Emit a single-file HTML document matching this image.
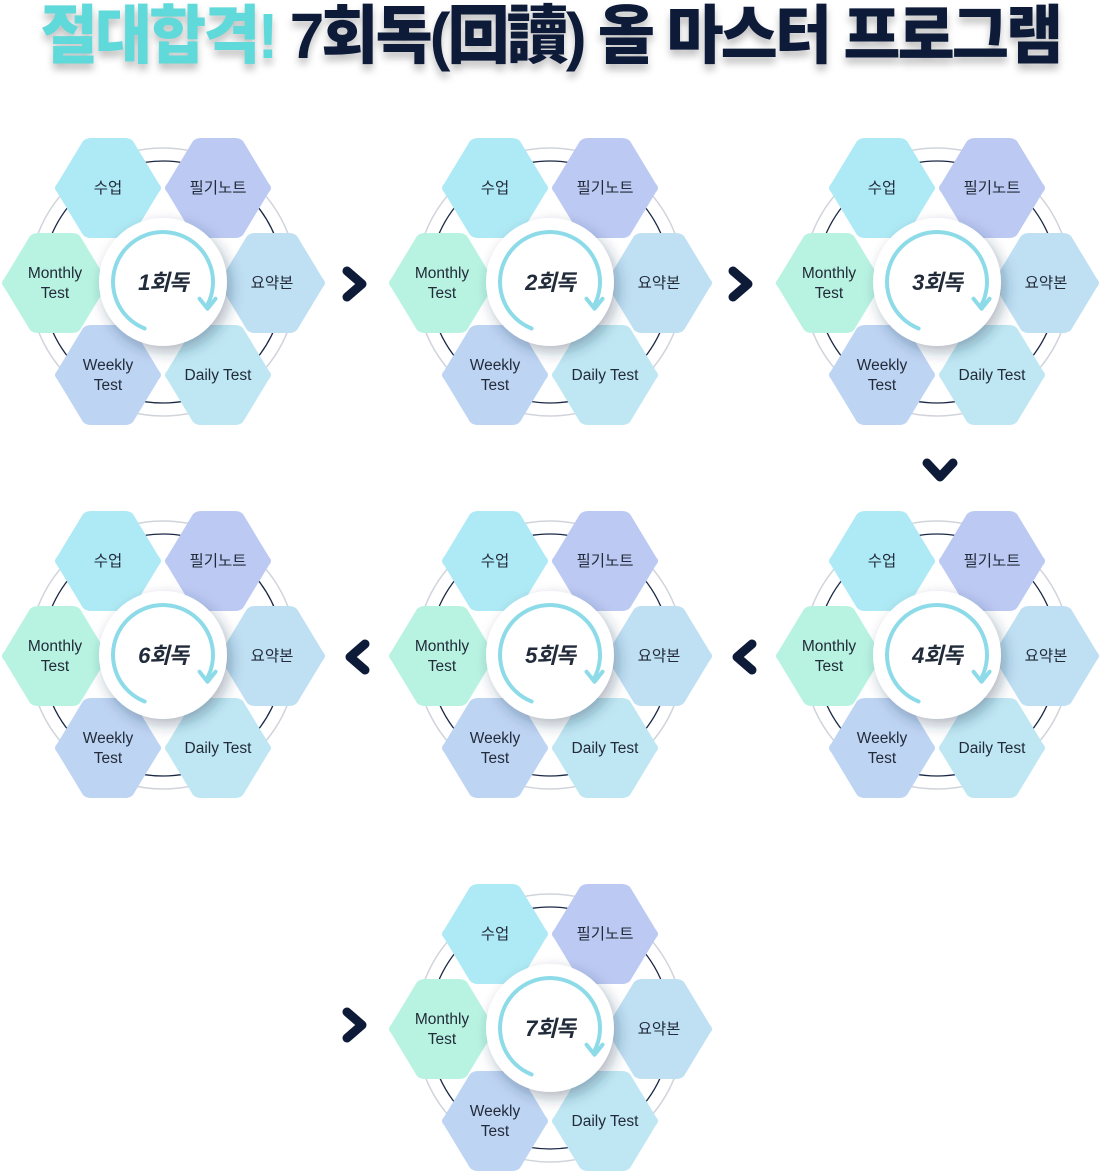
<!DOCTYPE html>
<html><head><meta charset="utf-8">
<style>
html,body{margin:0;padding:0;background:#fff;width:1101px;height:1171px;overflow:hidden}
#title{position:absolute;left:0;top:-2px;width:1101px;text-align:center;font-family:"Liberation Sans","Noto Sans CJK KR",sans-serif;font-weight:900;font-size:64px;line-height:76px;letter-spacing:-3px;color:#0d1b38;text-shadow:0 6px 8px rgba(0,0,0,0.25);transform:scaleX(0.97);white-space:nowrap}
#title span{color:#5fd9d9}
svg{position:absolute;left:0;top:0}
text{font-family:"Liberation Sans","Noto Sans CJK KR",sans-serif;fill:#222b3a}
</style></head><body>
<div id="title"><span>절대합격!</span> 7회독(回讀) 올 마스터 프로그램</div>
<svg id="svg" width="1101" height="1171">
<defs>
<filter id="sh" x="-50%" y="-50%" width="200%" height="200%"><feDropShadow dx="4" dy="6" stdDeviation="7" flood-color="#1b3350" flood-opacity="0.35"/></filter>
</defs>
</svg>
<script>
const rounds=["1회독","2회독","3회독","4회독","5회독","6회독","7회독"];
const centersX=[163,550,937,937,550,163,550];
const centersY=[282,282,282,655,655,655,1028];
const NS="http://www.w3.org/2000/svg";
const svg=document.getElementById('svg');
function el(tag,attrs,parent){const e=document.createElementNS(NS,tag);for(const k in attrs)e.setAttribute(k,attrs[k]);(parent||svg).appendChild(e);return e;}
const hexes=[
 {n:"수업",dx:-55,dy:-94,c:"#aeeaf5",k:"hex-class"},
 {n:"필기노트",dx:55,dy:-94,c:"#bcc9f3",k:"hex-notes"},
 {n:"요약본",dx:109,dy:1,c:"#bfdff3",k:"hex-summary"},
 {n:"Daily Test",dx:55,dy:93,c:"#bfe7f3",k:"hex-daily-test"},
 {n:"Monthly|Test",dx:-108,dy:1,c:"#b8f3e1",k:"hex-monthly-test"},
 {n:"Weekly|Test",dx:-55,dy:93,c:"#bed4f3",k:"hex-weekly-test"}
];
function hexPath(cx,cy){const w=55,h=50,s=27;
 return `M${cx-w+4},${cy-4} L${cx-s+2},${cy-h+3} Q${cx-s+5},${cy-h} ${cx-s+10},${cy-h} L${cx+s-10},${cy-h} Q${cx+s-5},${cy-h} ${cx+s-2},${cy-h+3} L${cx+w-4},${cy-4} Q${cx+w},${cy} ${cx+w-4},${cy+4} L${cx+s-2},${cy+h-3} Q${cx+s-5},${cy+h} ${cx+s-10},${cy+h} L${cx-s+10},${cy+h} Q${cx-s+5},${cy+h} ${cx-s+2},${cy+h-3} L${cx-w+4},${cy+4} Q${cx-w},${cy} ${cx-w+4},${cy-4}Z`;}
rounds.forEach((r,i)=>{
 const cx=centersX[i],cy=centersY[i];
 const g=el('g',{});
 
 
 const o=el('circle',{cx,cy,r:134,fill:'none',stroke:'#d0d4da','stroke-width':1.5},g);
 
 const o2=el('circle',{cx,cy,r:121,fill:'none',stroke:'#1a2845','stroke-width':1.3},g);
 
 hexes.forEach(h=>{
  const x=cx+h.dx,y=cy+h.dy;
  const p=el('path',{d:hexPath(x,y),fill:h.c},g);
  
  const lines=h.n.split('|');
  lines.forEach((t,j)=>{
   const tx=el('text',{x:x,y:y+5+(j-(lines.length-1)/2)*20,'text-anchor':'middle','font-size':15.5},g);
   tx.textContent=t;
   
  });
 });
 const c=el('circle',{cx,cy,r:64,fill:'#fff',filter:'url(#sh)'},g);
 
 const R=50;const a0=Math.PI*0.62,a1=Math.PI*2.15;
 const p0=[cx+R*Math.cos(a0),cy+R*Math.sin(a0)],p1=[cx+R*Math.cos(a1),cy+R*Math.sin(a1)];
 const arc=el('path',{d:`M${p0[0]},${p0[1]} A${R},${R} 0 1 1 ${p1[0]},${p1[1]}`,fill:'none',stroke:'#8ddbe8','stroke-width':4,'stroke-linecap':'round'},g);
 
 const hd=el('path',{d:`M${p1[0]-8},${p1[1]-6} L${p1[0]},${p1[1]+4} L${p1[0]+8},${p1[1]-6}`,fill:'none',stroke:'#8ddbe8','stroke-width':4,'stroke-linecap':'round','stroke-linejoin':'round'},g);
 
 const t=el('text',{x:cx,y:cy+8,'text-anchor':'middle','font-size':22,'font-weight':'bold','font-style':'italic',fill:'#0d1b38','letter-spacing':'-1'},g);
 t.textContent=r;
 
});
const chevX=[355,741,940,744,357,355];
const chevY=[284,284,470,657,657,1025];
const chevDir=["r","r","d","l","l","r"];
chevX.forEach((x,i)=>{
 const y=chevY[i],d=chevDir[i];let pts;
 if(d==='r')pts=`${x-8},${y-13} ${x+7},${y} ${x-8},${y+13}`;
 else if(d==='l')pts=`${x+8},${y-13} ${x-7},${y} ${x+8},${y+13}`;
 else pts=`${x-13},${y-7} ${x},${y+7} ${x+13},${y-7}`;
 const p=el('polyline',{points:pts,fill:'none',stroke:'#0d1b38','stroke-width':9,'stroke-linecap':'round','stroke-linejoin':'round'});
 
});
</script>
</body></html>
